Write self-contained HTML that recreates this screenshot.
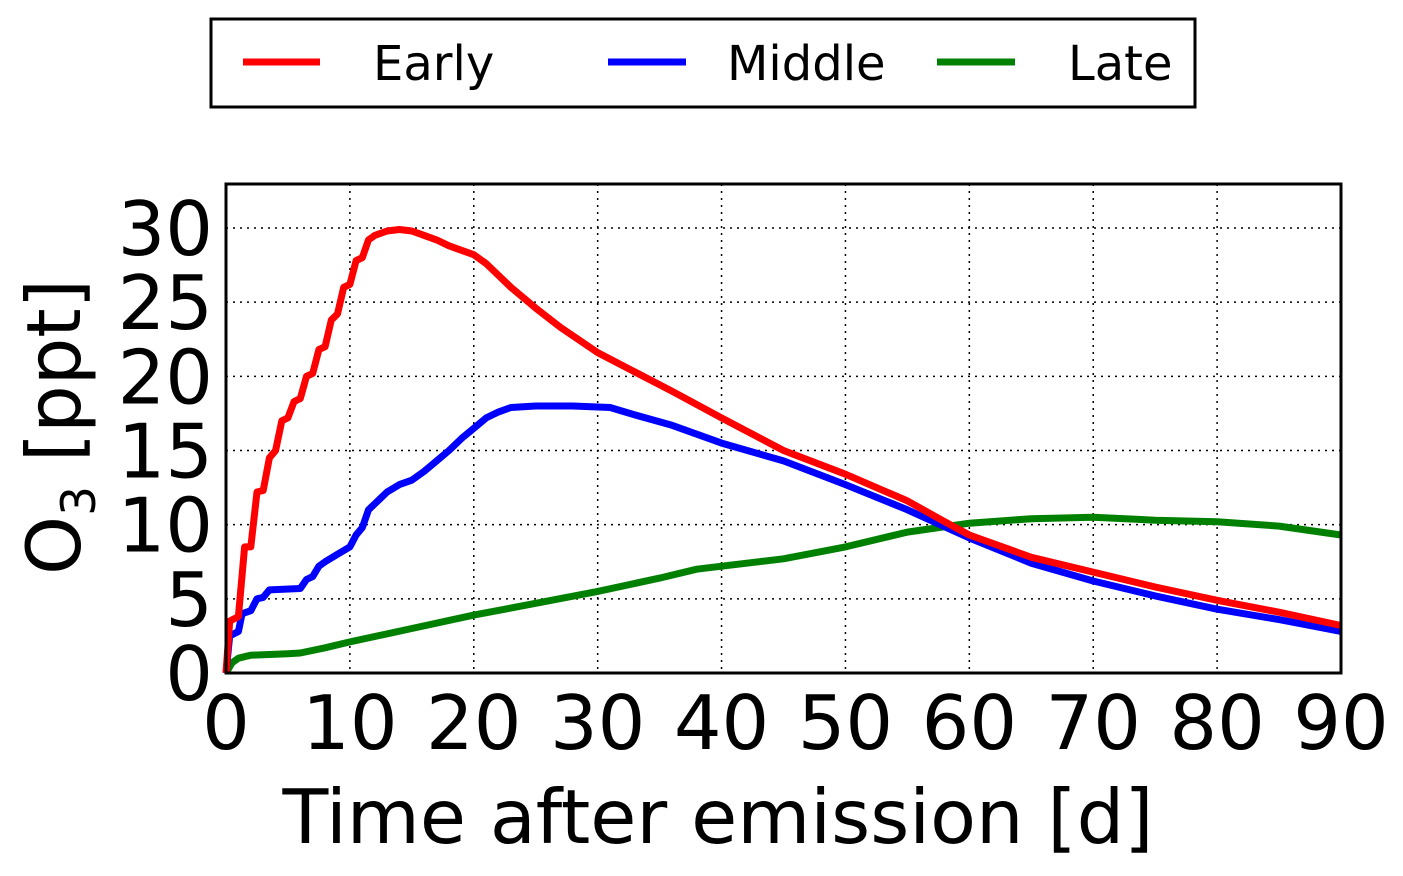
<!DOCTYPE html>
<html><head><meta charset="utf-8"><style>
html,body{margin:0;padding:0;background:#fff;}
svg{display:block;font-family:"DejaVu Sans","Liberation Sans",sans-serif;}
</style></head><body>
<svg id="chart" width="1403" height="876">
<g id="grid"></g>
<g id="series"></g>
<rect x="226" y="184" width="1115" height="489" fill="none" stroke="#000" stroke-width="3"/>
<g id="xticks"></g>
<g id="yticks"></g>
<text x="718" y="843" font-size="75" text-anchor="middle">Time after emission [d]</text>
<text transform="translate(80,427) rotate(-90)" font-size="75" text-anchor="middle">O<tspan font-size="47" dy="15">3</tspan><tspan dy="-15"> [ppt]</tspan></text>
<g>
<rect x="211" y="19" width="984" height="88" fill="#fff" stroke="#000" stroke-width="3"/>
<g><line x1="243" y1="62" x2="320" y2="62" stroke="#ff0000" stroke-width="7"/><text x="373" y="80" font-size="48">Early</text></g>
<g><line x1="608" y1="62" x2="686" y2="62" stroke="#0000ff" stroke-width="7"/><text x="727" y="80" font-size="48">Middle</text></g>
<g><line x1="937" y1="62" x2="1015" y2="62" stroke="#008000" stroke-width="7"/><text x="1068" y="80" font-size="48">Late</text></g>
</g>
</svg>
<script>
const xTicks=[0,10,20,30,40,50,60,70,80,90];
const yTicks=[0,5,10,15,20,25,30];
const earlyX=[0,0.3,1,1.5,2,2.5,3,3.5,4,4.5,5,5.5,6,6.5,7,7.5,8,8.5,9,9.5,10,10.5,11,11.5,12,13,14,15,16,17,18,19,20,21,22,23,25,27,30,33,36,40,45,50,55,58,60,65,70,75,80,85,90];
const earlyY=[0,3.5,3.8,8.5,8.5,12.2,12.3,14.5,15,17,17.2,18.3,18.5,20,20.2,21.8,22,23.8,24.2,26,26.2,27.8,28,29.2,29.5,29.8,29.9,29.8,29.5,29.2,28.8,28.5,28.2,27.6,26.8,26,24.6,23.3,21.6,20.3,19,17.2,15,13.4,11.6,10.2,9.3,7.8,6.8,5.8,4.9,4.1,3.2];
const middleX=[0,0.3,1,1.3,2,2.5,3,3.5,6,6.5,7,7.5,8,9,10,10.5,11,11.5,12,13,14,15,16,17,18,19,20,21,22,23,25,28,31,33,36,40,45,50,55,60,65,70,75,80,85,90];
const middleY=[0,2.5,2.8,4,4.2,5,5.1,5.6,5.7,6.3,6.5,7.2,7.5,8,8.5,9.3,9.8,11,11.4,12.2,12.7,13,13.6,14.3,15,15.8,16.5,17.2,17.6,17.9,18,18,17.9,17.4,16.7,15.5,14.3,12.7,11,9.1,7.4,6.2,5.2,4.3,3.6,2.8];
const lateX=[0,0.5,1,2,5,6,8,10,15,20,25,30,35,38,40,45,50,55,60,65,70,75,80,85,90];
const lateY=[0,0.7,1,1.2,1.3,1.35,1.7,2.1,3,3.9,4.7,5.5,6.4,7,7.2,7.7,8.5,9.5,10.1,10.4,10.5,10.3,10.2,9.9,9.3];
const NS="http://www.w3.org/2000/svg";
const sx=v=>226+v*(1115/90);
const sy=v=>673-v*(445/30);
function mk(t,a,p){const e=document.createElementNS(NS,t);for(const k in a)e.setAttribute(k,a[k]);p.appendChild(e);return e;}
const grid=document.getElementById('grid'),xt=document.getElementById('xticks'),yt=document.getElementById('yticks'),ser=document.getElementById('series');
xTicks.forEach(v=>{
 if(v>0&&v<90){const l=mk('line',{x1:sx(v),x2:sx(v),y1:184,y2:673,stroke:'#000','stroke-width':1.5,'stroke-dasharray':'2,5'},grid);
 
 }
 const t=mk('text',{x:sx(v),y:749,'font-size':75,'text-anchor':'middle'},xt);t.textContent=v;
 
 
});
yTicks.forEach(v=>{
 if(v>0){const l=mk('line',{x1:226,x2:1341,y1:sy(v),y2:sy(v),stroke:'#000','stroke-width':1.5,'stroke-dasharray':'2,5'},grid);
 
 }
 const t=mk('text',{x:213,y:sy(v)+27,'font-size':75,'text-anchor':'end'},yt);t.textContent=v;
 
 
});
function line(xs,ys,c,name){
 const d=xs.map((x,i)=>(i?'L':'M')+sx(x).toFixed(1)+','+sy(ys[i]).toFixed(1)).join(' ');
 const p=mk('path',{d:d,fill:'none',stroke:c,'stroke-width':7,'stroke-linejoin':'round'},ser);
 
 
}
line(lateX,lateY,'#008000','line-late');
line(middleX,middleY,'#0000ff','line-middle');
line(earlyX,earlyY,'#ff0000','line-early');
</script>
</body></html>
